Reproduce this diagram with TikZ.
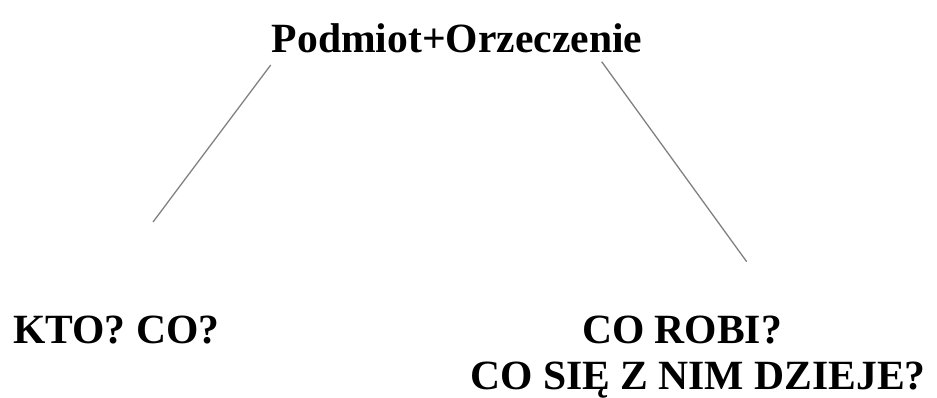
\documentclass[tikz,border=0pt]{standalone}
\usepackage{fontspec}
\setmainfont{Liberation Serif}
\usetikzlibrary{positioning}
\tikzset{
    label text/.style={inner sep=0pt,anchor=base,font=\bfseries\fontsize{41.6}{44}\selectfont},
    branch/.style={-,draw=gray,line width=1.3pt}
}

\begin{document}
\begin{tikzpicture}[x=1pt,y=-1pt]

                \useasboundingbox (0,0) rectangle (937,397);

                \node[label text] (root) at (457,52) {Podmiot+Orzeczenie};

                \node[label text,anchor=base west] (who)  at (13,343)  {KTO? CO?};
                \node[label text]                  (what) at (682,343) {CO ROBI?};
                \node[label text]                  (what more) at (698,389) {CO SIĘ Z NIM DZIEJE?};

                \coordinate (root left)  at (270.7,65);
                \coordinate (who top)    at (153,222);
                \coordinate (root right) at (601.7,61.7);
                \coordinate (what top)   at (746.7,261.7);

                \draw[branch] (root left)  -- (who top);
                \draw[branch] (root right) -- (what top);

            \end{tikzpicture}
\end{document}
